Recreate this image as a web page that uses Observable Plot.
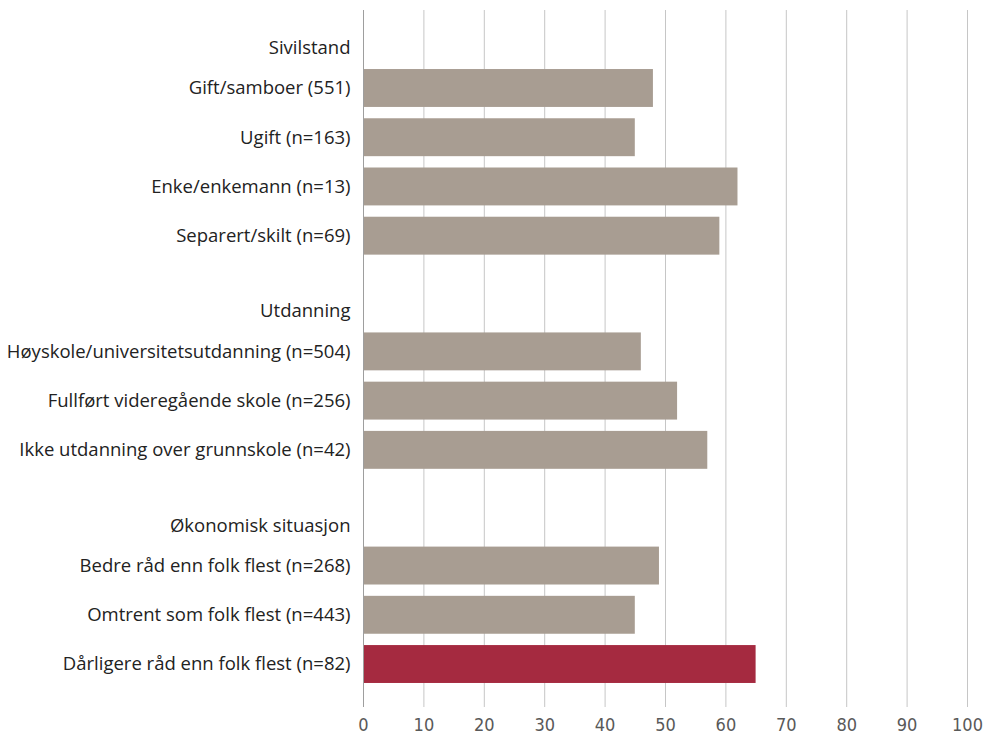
<!DOCTYPE html>
<html>
<head>
<meta charset="utf-8">
<script src="https://cdn.jsdelivr.net/npm/d3@7"></script>
<script src="https://cdn.jsdelivr.net/npm/@observablehq/plot@0.6"></script>
<style>
  html, body { margin: 0; padding: 0; background: #fff; }
  #chart svg { display: block; }
</style>
</head>
<body>
<div id="chart"></div>
<script>
// ---- Data ----
const groupNames = ["Sivilstand", "Utdanning", "Økonomisk situasjon"];
const sivilstandLabels = ["Gift/samboer (551)", "Ugift (n=163)", "Enke/enkemann (n=13)", "Separert/skilt (n=69)"];
const sivilstandValues = [48, 45, 62, 59];
const utdanningLabels = ["Høyskole/universitetsutdanning (n=504)", "Fullført videregående skole (n=256)", "Ikke utdanning over grunnskole (n=42)"];
const utdanningValues = [46, 52, 57];
const okonomiLabels = ["Bedre råd enn folk flest (n=268)", "Omtrent som folk flest (n=443)", "Dårligere råd enn folk flest (n=82)"];
const okonomiValues = [49, 45, 65];
const highlighted = ["Dårligere råd enn folk flest (n=82)"];
const xTicks = [0, 10, 20, 30, 40, 50, 60, 70, 80, 90, 100];

// ---- Layout (row index computed from the group structure) ----
const groupLabels = [sivilstandLabels, utdanningLabels, okonomiLabels];
const groupValues = [sivilstandValues, utdanningValues, okonomiValues];
const GAP = 2.35, HEADER_OFFSET = 0.82, HALF_BAR = 0.385;
const rows = [], headers = [];
let cursor = 0;
groupNames.forEach((g, gi) => {
  headers.push({label: g, pos: cursor - HEADER_OFFSET});
  groupLabels[gi].forEach((lab, i) => {
    rows.push({label: lab, value: groupValues[gi][i], pos: cursor + i, hi: highlighted.includes(lab)});
  });
  cursor = cursor + groupLabels[gi].length - 1 + GAP;
});
const lastPos = rows[rows.length - 1].pos;

const labelFont = "'Open Sans', sans-serif";

const chart = Plot.plot({
  width: 992,
  height: 736,
  marginLeft: 363,
  marginRight: 25,
  marginTop: 10,
  marginBottom: 29,
  x: {domain: [0, 100]},
  y: {domain: [lastPos + 0.873, -1.584], axis: null},
  marks: [
    Plot.gridX(xTicks, {stroke: "#c6c6c6", strokeOpacity: 1, strokeWidth: 1}),
    Plot.axisX(xTicks, {tickSize: 0, tickPadding: 11, fontSize: 18, fill: "#595959", fontFamily: "'DejaVu Sans Condensed', 'DejaVu Sans', sans-serif", label: null}),
    Plot.rectX(rows, {x1: 0, x2: "value", y1: d => d.pos - HALF_BAR, y2: d => d.pos + HALF_BAR, fill: d => d.hi ? "#a52a40" : "#a89d92"}),
    Plot.ruleX([0], {stroke: "#9e9e9e", strokeWidth: 1}),
    Plot.text(rows, {x: 0, y: "pos", text: "label", dx: -13, textAnchor: "end", fontSize: 18.5, fill: "#222", fontFamily: labelFont}),
    Plot.text(headers, {x: 0, y: "pos", text: "label", dx: -13, textAnchor: "end", fontSize: 18.5, fill: "#222", fontFamily: labelFont})
  ]
});
document.getElementById("chart").appendChild(chart);
</script>
</body>
</html>
